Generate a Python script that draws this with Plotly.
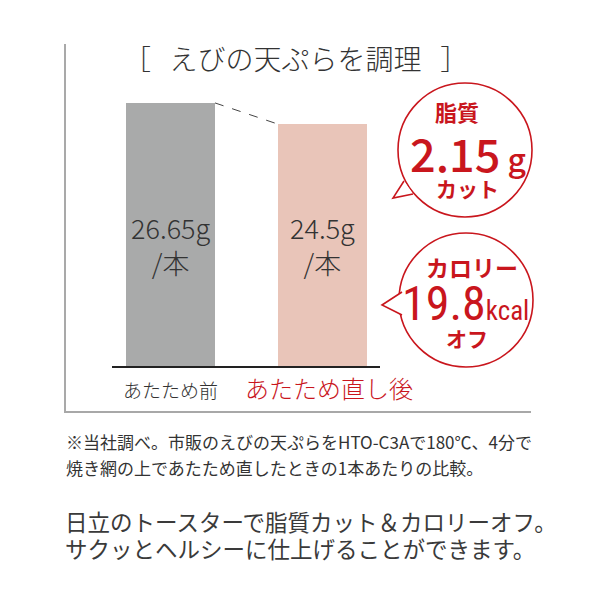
import plotly.graph_objects as go

# ---- data ----
categories = ["あたため前", "あたため直し後"]
values = [26.65, 24.5]
value_unit = "g"
per_unit = "/本"
title_text = "［   えびの天ぷらを調理   ］"
fat_label = "脂質"
fat_cut = "2.15"
fat_unit = "g"
fat_suffix = "カット"
cal_label = "カロリー"
cal_off = "19.8"
cal_unit = "kcal"
cal_suffix = "オフ"
footnote_lines = ["※当社調べ。市販のえびの天ぷらをHTO-C3Aで180℃、4分で",
                  "焼き網の上であたため直したときの1本あたりの比較。"]
body_lines = ["日立のトースターで脂質カット＆カロリーオフ。",
              "サクッとヘルシーに仕上げることができます。"]

# ---- style ----
W = H = 600
RED = "#c9161d"
DARK = "#333333"
JP = "Noto Sans CJK JP"
bar_colors = ["#a9aaaa", "#e9c5b9"]
bar_w = 0.585


def px(x):
    return x / W


def py(y):
    return 1 - y / H


fig = go.Figure()
xs = list(range(len(categories)))
fig.add_trace(go.Bar(x=xs, y=values, width=[bar_w] * len(xs),
                     marker=dict(color=bar_colors, line=dict(width=0)),
                     hoverinfo="skip", showlegend=False))

ann = []
# value labels inside bars
for x, v in zip(xs, values):
    ann.append(dict(x=x, xref="x", y=py(245), yref="paper",
                    text=f"{v:g}{value_unit}<br>{per_unit}", showarrow=False,
                    font=dict(family=JP, size=27, color=DARK, weight=300),
                    xanchor="center", yanchor="middle"))
# category labels
ann.append(dict(x=0, xref="x", y=py(389), yref="paper", text=categories[0],
                showarrow=False, font=dict(family=JP, size=19, color=DARK, weight=300),
                xanchor="center", yanchor="middle"))
ann.append(dict(x=px(328.5), xref="paper", y=py(388), yref="paper", text=categories[1],
                showarrow=False, font=dict(family=JP, size=24, color=RED, weight=300),
                xanchor="center", yanchor="middle"))
# title
ann.append(dict(x=px(295), xref="paper", y=py(58), yref="paper", text=title_text,
                showarrow=False, font=dict(family=JP, size=28, color=DARK, weight=300),
                xanchor="center", yanchor="middle"))
# bubble 1
ann.append(dict(x=px(457), xref="paper", y=py(111), yref="paper", text=fat_label,
                showarrow=False, font=dict(family=JP, size=22, color=RED, weight=700),
                xanchor="center", yanchor="middle"))
ann.append(dict(x=px(468), xref="paper", y=py(152), yref="paper",
                text=f"{fat_cut}<span style='font-size:32px'> {fat_unit}</span>",
                showarrow=False, font=dict(family=JP, size=45, color=RED, weight=500),
                xanchor="center", yanchor="middle"))
ann.append(dict(x=px(467), xref="paper", y=py(188), yref="paper", text=fat_suffix,
                showarrow=False, font=dict(family=JP, size=21, color=RED, weight=700),
                xanchor="center", yanchor="middle"))
# bubble 2
ann.append(dict(x=px(472), xref="paper", y=py(267), yref="paper", text=cal_label,
                showarrow=False, font=dict(family=JP, size=23, color=RED, weight=700),
                xanchor="center", yanchor="middle"))
ann.append(dict(x=px(465), xref="paper", y=py(303), yref="paper",
                text=f"{cal_off}<span style='font-size:27px'>{cal_unit}</span>",
                showarrow=False,
                font=dict(family="Liberation Sans Narrow, Roboto Condensed, Roboto", size=48,
                          color=RED, weight=400),
                xanchor="center", yanchor="middle"))
ann.append(dict(x=px(467), xref="paper", y=py(338), yref="paper", text=cal_suffix,
                showarrow=False, font=dict(family=JP, size=21, color=RED, weight=700),
                xanchor="center", yanchor="middle"))
# footnote
for t, yy in zip(footnote_lines, [441, 467]):
    ann.append(dict(x=px(64), xref="paper", y=py(yy), yref="paper", text=t,
                    showarrow=False, font=dict(family=JP, size=17, color=DARK, weight=400),
                    xanchor="left", yanchor="middle"))
for t, yy in zip(body_lines, [521, 548]):
    ann.append(dict(x=px(63), xref="paper", y=py(yy), yref="paper", text=t,
                    showarrow=False, font=dict(family=JP, size=22.5, color="#3a3a3a", weight=400),
                    xanchor="left", yanchor="middle"))

shapes = []
# frame
shapes.append(dict(type="line", xref="paper", yref="paper", x0=px(65), x1=px(65),
                   y0=py(44), y1=py(412), line=dict(color="#8c8c8c", width=1.5)))
shapes.append(dict(type="line", xref="paper", yref="paper", x0=px(64), x1=px(531),
                   y0=py(412), y1=py(412), line=dict(color="#a8a8a8", width=2)))
# dashed connector between bar tops
shapes.append(dict(type="line", xref="x", yref="y", x0=xs[0] + bar_w / 2, y0=values[0],
                   x1=xs[1] - bar_w / 2, y1=values[1],
                   line=dict(color="#444444", width=1, dash="dash")))


def circle(cx, cy, r):
    return dict(type="circle", xref="paper", yref="paper",
                x0=px(cx - r), x1=px(cx + r), y0=py(cy + r), y1=py(cy - r),
                line=dict(color=RED, width=1.6), fillcolor="white")


def tail(a, tip, b):
    p = f"M {px(a[0])} {py(a[1])} L {px(tip[0])} {py(tip[1])} L {px(b[0])} {py(b[1])}"
    return dict(type="path", xref="paper", yref="paper", path=p,
                line=dict(color=RED, width=1.6), fillcolor="white")


shapes.append(circle(465, 150, 67))
shapes.append(tail((404, 181), (393, 198), (413, 194)))
shapes.append(circle(466, 300, 67))
shapes.append(tail((402, 292), (382, 305), (402, 315)))

fig.update_layout(
    width=W, height=H, margin=dict(l=0, r=0, t=0, b=0),
    paper_bgcolor="white", plot_bgcolor="white",
    xaxis=dict(domain=[px(112), px(380)], range=[-0.385, 1.378], showline=True,
               linecolor="#222222", linewidth=2, showticklabels=False, ticks="",
               showgrid=False, zeroline=False, fixedrange=True),
    yaxis=dict(domain=[py(366), py(82)], range=[0, 28.77], visible=False,
               showgrid=False, zeroline=False, fixedrange=True),
    bargap=0.0, annotations=ann, shapes=shapes, showlegend=False,
)

fig.write_html("out.html")
